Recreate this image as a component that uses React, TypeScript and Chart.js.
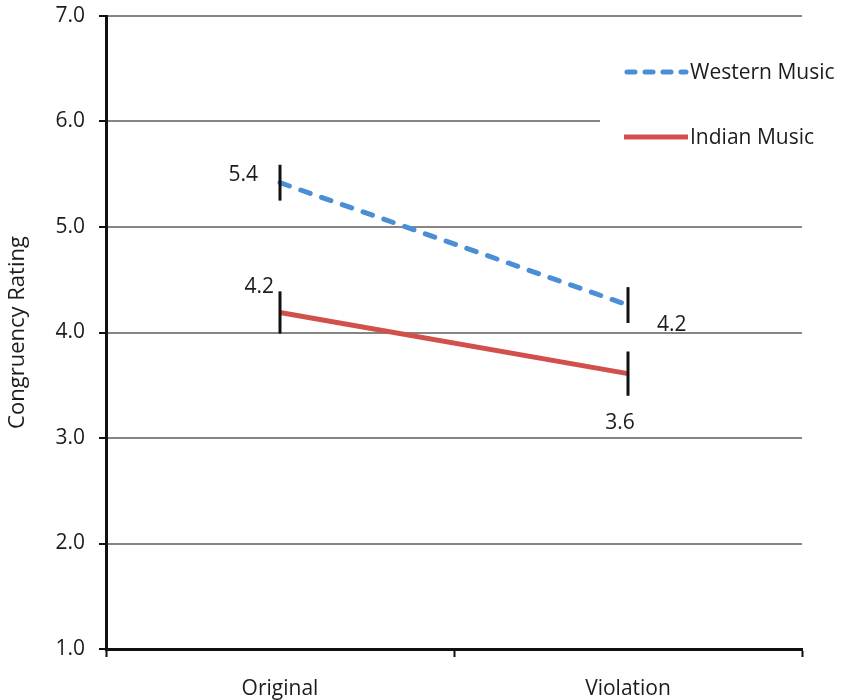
import React, { useEffect, useRef } from 'react';
import { Chart, registerables } from 'chart.js';
Chart.register(...registerables);

const categories = ['Original', 'Violation'];
const westernValues = [5.42, 4.26];
const indianValues = [4.19, 3.61];
const westernErrors = [0.17, 0.17];
const indianErrors = [0.2, 0.21];
const westernLabels = ['5.4', '4.2'];
const indianLabels = ['4.2', '3.6'];
const seriesNames = ['Western Music', 'Indian Music'];
const yTitle = 'Congruency Rating';
const yMin = 1;
const yMax = 7;

const BLUE = '#4a8fd5';
const RED = '#d2504b';
const FONT = '"Open Sans", sans-serif';
const TEXT = '#1c1c1c';
const FS = 21;

const errorBars = {
  id: 'errorBars',
  afterDatasetsDraw(chart: any) {
    const ctx = chart.ctx;
    const y = chart.scales.y;
    const errs = [westernErrors, indianErrors];
    ctx.save();
    ctx.strokeStyle = '#111';
    ctx.lineWidth = 3;
    chart.data.datasets.forEach((ds: any, di: number) => {
      const meta = chart.getDatasetMeta(di);
      meta.data.forEach((pt: any, i: number) => {
        const v = ds.data[i];
        const e = errs[di][i];
        ctx.beginPath();
        ctx.moveTo(pt.x, y.getPixelForValue(v + e));
        ctx.lineTo(pt.x, y.getPixelForValue(v - e));
        ctx.stroke();
      });
    });
    ctx.fillStyle = TEXT;
    ctx.font = `${FS}px ${FONT}`;
    ctx.textBaseline = 'middle';
    const w = chart.getDatasetMeta(0).data;
    const n = chart.getDatasetMeta(1).data;
    ctx.textAlign = 'right';
    ctx.fillText(westernLabels[0], w[0].x - 22, w[0].y - 8);
    ctx.fillText(indianLabels[0], n[0].x - 6, n[0].y - 25);
    ctx.textAlign = 'left';
    ctx.fillText(westernLabels[1], w[1].x + 29, w[1].y + 20);
    ctx.textAlign = 'center';
    ctx.fillText(indianLabels[1], n[1].x - 8, n[1].y + 49);
    ctx.restore();
  },
};

const legendBox = {
  id: 'legendBox',
  beforeDatasetsDraw(chart: any) {
    const ctx = chart.ctx;
    const area = chart.chartArea;
    ctx.save();
    ctx.fillStyle = '#fff';
    ctx.fillRect(600, 40, area.right - 600 + 2, 125);
    ctx.restore();
  },
  afterDraw(chart: any) {
    const ctx = chart.ctx;
    ctx.save();
    const rows = [
      { y: 72, color: BLUE, dash: [8, 10] },
      { y: 137, color: RED, dash: [] },
    ];
    rows.forEach((r, i) => {
      ctx.strokeStyle = r.color;
      ctx.lineWidth = 5;
      ctx.lineCap = r.dash.length ? 'round' : 'butt';
      ctx.setLineDash(r.dash);
      ctx.beginPath();
      ctx.moveTo(r.dash.length ? 627 : 624, r.y);
      ctx.lineTo(r.dash.length ? 686 : 688, r.y);
      ctx.stroke();
      ctx.setLineDash([]);
      ctx.fillStyle = TEXT;
      ctx.font = `${FS}px ${FONT}`;
      ctx.textAlign = 'left';
      ctx.textBaseline = 'middle';
      ctx.fillText(seriesNames[i], 690, r.y + 1);
    });
    ctx.restore();
  },
};

export default function App() {
  const ref = useRef<HTMLCanvasElement>(null);
  useEffect(() => {
    document.body.style.margin = '0';
    const chart = new Chart(ref.current as HTMLCanvasElement, {
      type: 'line',
      data: {
        labels: categories,
        datasets: [
          {
            label: seriesNames[0],
            data: westernValues,
            borderColor: BLUE,
            borderWidth: 5,
            borderDash: [10, 12],
            borderCapStyle: 'round',
            pointRadius: 0,
            tension: 0,
            fill: false,
          },
          {
            label: seriesNames[1],
            data: indianValues,
            borderColor: RED,
            borderWidth: 5,
            pointRadius: 0,
            tension: 0,
            fill: false,
          },
        ],
      },
      options: {
        animation: false,
        responsive: false,
        devicePixelRatio: 1,
        layout: { padding: { top: 16, right: 40, left: 0, bottom: 0 } },
        plugins: { legend: { display: false }, tooltip: { enabled: false } },
        scales: {
          x: {
            type: 'category',
            offset: true,
            grid: {
              display: true,
              offset: true,
              drawOnChartArea: false,
              drawTicks: true,
              tickLength: 8,
              tickColor: '#111',
              tickWidth: 2,
            },
            border: { color: '#111', width: 3 },
            ticks: { font: { family: FONT, size: FS }, color: TEXT, padding: 19 },
            afterFit: (s: any) => { s.height = 51; },
          },
          y: {
            min: yMin,
            max: yMax,
            grid: {
              color: '#858585',
              lineWidth: 2,
              tickColor: '#111',
              tickWidth: 2,
              tickLength: 7,
            },
            border: { color: '#111', width: 3 },
            ticks: {
              stepSize: 1,
              font: { family: FONT, size: FS },
              color: TEXT,
              padding: 14,
              callback: (v: any) => Number(v).toFixed(1),
            },
            title: {
              display: true,
              text: yTitle,
              font: { family: FONT, size: 22 },
              color: TEXT,
              padding: { top: 5, bottom: 0 },
            },
            afterFit: (s: any) => { s.width = 106; s.paddingTop = 0; s.paddingBottom = 0; },
          },
        },
      },
      plugins: [legendBox, errorBars],
    } as any);
    return () => chart.destroy();
  }, []);
  return (
    <div style={{ width: 842, height: 700 }}>
      <canvas ref={ref} width={842} height={700} />
    </div>
  );
}
